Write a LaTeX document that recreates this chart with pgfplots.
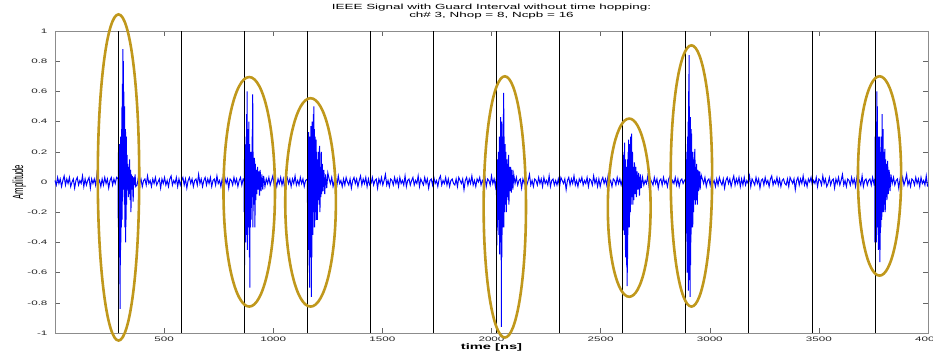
\documentclass[border=0pt]{standalone}
\usepackage{pgfplots}
\pgfplotsset{compat=1.18}
\usepackage{fontspec}
\setmainfont{Liberation Sans}
\newfontfamily\strfont[FakeStretch=1.8]{Liberation Sans}
\definecolor{gold}{RGB}{192,152,28}
\begin{document}
\begin{tikzpicture}
\begin{axis}[
  name=ax,
  scale only axis, width=873bp, height=302bp,
  xmin=0, xmax=4000, ymin=-1, ymax=1,
  clip=false,
  xtick={500,1000,1500,2000,2500,3000,3500,4000},
  xticklabels={500,1000,1500,2000,2500,3000,3500,4000},
  ytick={-1,-0.8,-0.6,-0.4,-0.2,0,0.2,0.4,0.6,0.8,1},
  yticklabels={-1,-0.8,-0.6,-0.4,-0.2,0,0.2,0.4,0.6,0.8,1},
  tick label style={font=\strfont\fontsize{6.5}{7}\selectfont, text=black!85},
  y tick label style={xshift=-4bp},
  tick align=inside, major tick length=5bp,
  axis line style={black!45},
  every tick/.style={black!60},
  title={IEEE Signal with Guard Interval without time hopping:\\ch\# 3, Nhop = 8, Ncpb = 16},
  title style={font=\strfont\fontsize{7.5}{8}\selectfont, align=center, at={(axis description cs:0.5,1)}, anchor=south, yshift=2bp},
  xlabel={time [ns]},
  xlabel style={font=\strfont\bfseries\fontsize{8.2}{9}\selectfont, at={(axis description cs:0.5,0)}, anchor=north, yshift=-7bp},
  ylabel={Amplitude},
  ylabel style={font=\fontsize{7.8}{9}\selectfont, at={(axis description cs:-0.041,0.5)}, anchor=center, yscale=1.9},
]
\addplot[blue, line width=1bp, mark=none] coordinates {
(0,0.01)(6,-0.02)(12,0.03)(18,-0.01)(24,0.02)(30,-0.03)(36,0.01)(42,0.04)(48,-0.02)(54,0.02)(60,-0.01)(66,0.03)(72,-0.03)(78,0.00)(84,0.02)(90,-0.04)(96,0.01)(102,0.03)(108,-0.02)(114,0.01)(120,-0.01)(126,0.04)(132,-0.03)(138,0.02)(144,-0.02)(150,0.01)(156,0.03)(162,-0.04)(168,0.02)(174,-0.01)(180,0.02)(186,-0.02)(192,0.05)(198,-0.01)(204,0.01)(210,-0.03)(216,0.02)(222,-0.02)(228,0.03)(234,-0.01)(240,0.02)(246,-0.04)(252,0.01)(258,0.03)(264,-0.02)(270,0.02)(276,-0.01)(282,0.03)
(289,0.02)(290,-0.3)(291,0.22)(292,-0.45)(293,0.2)(294,-0.5)(295,0.25)(296,-0.42)(297,0.1)(298,-0.84)(299,0.15)(300,-0.55)(301,0.3)(302,-0.4)(303,0.12)(304,-0.3)(305,0.35)(306,-0.2)(307,0.5)(308,-0.25)(309,0.65)(310,-0.1)(311,0.88)(312,0.05)(313,0.8)(314,-0.05)(315,0.6)(316,0.1)(317,0.4)(318,-0.15)(319,0.5)(320,-0.3)(321,0.3)(322,-0.1)(323,0.35)(324,-0.4)(325,0.2)(326,-0.25)(327,0.3)(328,-0.15)(330,0.18)(332,-0.05)(334,0.12)(336,-0.1)(338,0.1)(340,-0.08)(342,0.15)(344,-0.12)(346,0.08)(348,-0.2)(350,0.05)(352,-0.05)(355,0.04)(358,-0.13)(361,0.03)(364,-0.02)(367,0.05)(370,-0.03)
(376,-0.02)(382,0.03)(388,-0.01)(394,0.02)(400,-0.03)(406,0.01)(412,0.02)(418,-0.02)(424,0.04)(430,-0.01)(436,0.01)(442,-0.03)(448,0.02)(454,-0.01)(460,0.03)(466,-0.02)(472,0.00)(478,0.02)(484,-0.04)(490,0.02)(496,-0.01)(502,0.03)(508,-0.02)(514,0.01)(520,-0.03)(526,0.02)(532,0.04)(538,-0.02)(544,0.01)(550,-0.01)(556,0.03)(562,-0.03)(568,0.02)(574,-0.02)(580,0.01)(586,0.03)(592,-0.02)(598,0.02)(604,-0.04)(610,0.01)(616,0.03)(622,-0.01)(628,0.02)(634,-0.03)(640,0.01)(646,0.02)(652,-0.02)(658,0.05)(664,-0.01)(670,0.02)(676,-0.03)(682,0.01)(688,0.03)(694,-0.02)(700,0.02)(706,-0.01)(712,0.03)(718,-0.03)(724,0.01)(730,0.02)(736,-0.02)(742,0.04)(748,-0.01)(754,0.01)(760,-0.03)(766,0.02)(772,-0.02)(778,0.03)(784,-0.01)(790,0.02)(796,-0.04)(802,0.02)(808,0.01)(814,-0.02)(820,0.03)(826,-0.01)(832,0.02)(838,-0.03)(844,0.01)(850,0.03)(856,-0.02)(862,0.02)
(866,0.02)(867,-0.2)(868,0.15)(869,-0.55)(870,0.1)(871,-0.35)(872,0.2)(873,-0.4)(874,0.25)(875,-0.3)(876,0.3)(877,-0.2)(878,0.45)(879,-0.35)(880,0.6)(881,-0.45)(882,0.3)(883,-0.25)(884,0.2)(885,-0.3)(886,0.35)(887,-0.2)(888,0.4)(889,-0.35)(890,0.15)(891,-0.5)(892,0.25)(893,-0.7)(894,0.2)(895,-0.3)(896,0.12)(897,-0.15)(898,0.2)(899,-0.25)(900,0.15)(902,-0.1)(904,0.35)(905,-0.05)(906,0.58)(907,-0.3)(908,0.2)(909,-0.1)(910,0.1)(912,-0.15)(914,0.16)(916,-0.3)(918,0.12)(920,-0.12)(922,0.08)(925,-0.08)(928,0.1)(931,-0.05)(934,0.07)(937,-0.09)(940,0.08)(944,-0.06)(948,0.05)(952,-0.05)(956,0.04)
(962,-0.03)(968,0.02)(974,-0.01)(980,0.03)(986,-0.02)(992,0.01)(998,0.04)(1004,-0.02)(1010,0.01)(1016,-0.03)(1022,0.02)(1028,-0.01)(1034,0.03)(1040,-0.02)(1046,0.02)(1052,-0.04)(1058,0.01)(1064,0.03)(1070,-0.01)(1076,0.02)(1082,-0.03)(1088,0.02)(1094,-0.01)(1100,0.04)(1106,-0.02)(1112,0.01)(1118,-0.02)(1124,0.03)(1130,-0.01)(1136,0.02)(1142,-0.03)(1148,0.01)
(1156,0.02)(1157,-0.15)(1158,0.2)(1159,-0.4)(1160,0.3)(1161,-0.45)(1162,0.33)(1163,-0.35)(1164,0.25)(1165,-0.6)(1166,0.15)(1167,-0.7)(1168,0.3)(1169,-0.45)(1170,0.2)(1171,-0.5)(1172,0.37)(1173,-0.4)(1174,0.25)(1175,-0.76)(1176,0.3)(1177,-0.5)(1178,0.4)(1179,-0.3)(1180,0.2)(1182,-0.35)(1184,0.45)(1185,-0.2)(1186,0.5)(1187,-0.15)(1188,0.35)(1190,-0.3)(1192,0.3)(1194,-0.2)(1196,0.28)(1198,-0.25)(1200,0.2)(1202,-0.25)(1204,0.15)(1206,-0.12)(1208,0.2)(1210,-0.15)(1212,0.24)(1214,-0.2)(1216,0.1)(1218,-0.1)(1220,0.2)(1222,-0.08)(1225,0.12)(1228,-0.06)(1232,0.08)(1236,-0.08)(1240,0.05)(1245,-0.04)(1250,0.06)
(1256,0.02)(1262,-0.01)(1268,0.03)(1274,-0.03)(1280,0.01)(1286,0.02)(1292,-0.02)(1298,0.04)(1304,-0.01)(1310,0.01)(1316,-0.03)(1322,0.02)(1328,-0.02)(1334,0.03)(1340,0.00)(1346,-0.02)(1352,0.02)(1358,-0.04)(1364,0.01)(1370,0.03)(1376,-0.01)(1382,0.02)(1388,-0.03)(1394,0.01)(1400,0.04)(1406,-0.02)(1412,0.02)(1418,-0.01)(1424,0.03)(1430,-0.03)(1436,0.02)(1442,-0.02)
(1448,-0.01)(1454,0.03)(1460,-0.02)(1466,0.01)(1472,0.02)(1478,-0.04)(1484,0.02)(1490,-0.01)(1496,0.03)(1502,-0.02)(1508,0.01)(1514,0.05)(1520,-0.02)(1526,0.01)(1532,-0.03)(1538,0.02)(1544,0.01)(1550,-0.02)(1556,0.03)(1562,-0.01)(1568,0.02)(1574,-0.03)(1580,0.03)(1586,-0.01)(1592,0.01)(1598,-0.02)(1604,0.04)(1610,-0.03)(1616,0.01)(1622,0.02)(1628,-0.02)(1634,0.01)
(1640,0.03)(1646,-0.02)(1652,0.01)(1658,-0.01)(1664,0.04)(1670,-0.03)(1676,0.02)(1682,0.00)(1688,-0.02)(1694,0.03)(1700,-0.01)(1706,0.02)(1712,-0.04)(1718,0.01)(1724,0.02)(1730,-0.02)(1736,0.03)(1742,-0.01)(1748,0.01)(1754,-0.03)(1760,0.02)(1766,0.04)(1772,-0.02)(1778,0.01)(1784,-0.01)(1790,0.03)(1796,-0.02)(1802,0.02)(1808,-0.03)(1814,0.01)(1820,0.02)(1826,-0.01)
(1832,-0.02)(1838,0.02)(1844,-0.03)(1850,0.03)(1856,0.01)(1862,-0.01)(1868,0.02)(1874,-0.05)(1880,0.01)(1886,0.03)(1892,-0.02)(1898,0.02)(1904,-0.01)(1910,0.04)(1916,-0.02)(1922,0.01)(1928,-0.03)(1934,0.02)(1940,0.00)(1946,0.03)(1952,-0.02)(1958,0.01)(1964,-0.01)(1970,0.03)(1976,-0.03)(1982,0.02)(1988,0.01)(1994,-0.02)(2000,0.04)(2006,-0.01)(2012,0.02)(2018,-0.03)
(2022,0.02)(2023,-0.1)(2024,0.08)(2025,-0.42)(2026,0.1)(2027,-0.3)(2028,0.15)(2030,-0.25)(2032,0.2)(2034,-0.35)(2036,0.3)(2037,-0.48)(2038,0.25)(2039,-0.3)(2040,0.3)(2041,-0.4)(2042,0.43)(2043,-0.35)(2044,0.35)(2045,-0.96)(2046,0.4)(2047,-0.5)(2048,0.3)(2049,-0.35)(2050,0.2)(2052,-0.3)(2054,0.45)(2055,-0.2)(2056,0.59)(2057,-0.3)(2058,0.3)(2060,-0.2)(2062,0.25)(2064,-0.15)(2066,0.2)(2068,-0.2)(2070,0.15)(2072,-0.1)(2074,0.12)(2076,-0.12)(2078,0.18)(2080,-0.15)(2082,0.1)(2085,-0.06)(2088,0.1)(2091,-0.07)(2094,0.08)(2098,-0.05)(2102,0.05)
(2108,-0.01)(2114,0.03)(2120,-0.02)(2126,0.01)(2132,0.02)(2138,-0.04)(2144,0.02)(2150,-0.01)(2156,0.03)(2162,-0.02)(2168,0.01)(2174,0.05)(2180,-0.02)(2186,0.01)(2192,-0.03)(2198,0.02)(2204,0.01)(2210,-0.02)(2216,0.03)(2222,-0.01)(2228,0.02)(2234,-0.03)(2240,0.03)(2246,-0.01)(2252,0.01)(2258,-0.02)(2264,0.04)(2270,-0.03)(2276,0.01)(2282,0.02)(2288,-0.02)(2294,0.01)
(2300,-0.02)(2306,0.02)(2312,-0.03)(2318,0.03)(2324,0.01)(2330,-0.01)(2336,0.02)(2342,-0.05)(2348,0.01)(2354,0.03)(2360,-0.02)(2366,0.02)(2372,-0.01)(2378,0.04)(2384,-0.02)(2390,0.01)(2396,-0.03)(2402,0.02)(2408,0.00)(2414,0.03)(2420,-0.02)(2426,0.01)(2432,-0.01)(2438,0.03)(2444,-0.03)(2450,0.02)(2456,0.01)(2462,-0.02)(2468,0.04)(2474,-0.01)(2480,0.02)(2486,-0.03)
(2492,0.02)(2498,-0.03)(2504,0.01)(2510,0.03)(2516,-0.01)(2522,0.02)(2528,-0.02)(2534,0.04)(2540,-0.01)(2546,0.01)(2552,-0.03)(2558,0.02)(2564,0.01)(2570,-0.02)(2576,0.03)(2582,-0.01)(2588,0.02)(2594,-0.02)
(2600,0.02)(2601,-0.1)(2602,0.2)(2603,-0.3)(2604,0.18)(2605,-0.32)(2606,0.1)(2607,-0.2)(2608,0.15)(2609,-0.35)(2610,0.26)(2611,-0.3)(2612,0.1)(2613,-0.45)(2614,0.15)(2615,-0.5)(2616,0.05)(2617,-0.4)(2618,0.1)(2619,-0.55)(2620,0.05)(2621,-0.69)(2622,0.1)(2623,-0.6)(2624,0.15)(2625,-0.35)(2626,0.2)(2627,-0.3)(2628,0.28)(2629,-0.25)(2630,0.2)(2632,-0.3)(2634,0.25)(2636,-0.2)(2638,0.3)(2640,-0.15)(2642,0.32)(2644,-0.1)(2646,0.2)(2648,-0.15)(2650,0.1)(2652,-0.12)(2655,0.13)(2658,-0.08)(2661,0.1)(2664,-0.1)(2667,0.07)(2670,-0.05)(2674,0.06)(2678,-0.09)(2682,0.05)(2686,-0.04)
(2692,0.03)(2698,-0.02)(2704,0.01)(2710,-0.01)(2716,0.04)(2722,-0.03)(2728,0.02)(2734,0.00)(2740,-0.02)(2746,0.03)(2752,-0.01)(2758,0.02)(2764,-0.04)(2770,0.01)(2776,0.02)(2782,-0.02)(2788,0.03)(2794,-0.01)(2800,0.01)(2806,-0.03)(2812,0.02)(2818,0.04)(2824,-0.02)(2830,0.01)(2836,-0.01)(2842,0.03)(2848,-0.02)(2854,0.02)(2860,-0.03)(2866,0.01)(2872,0.02)(2878,-0.01)(2884,0.01)
(2889,0.02)(2890,-0.15)(2891,0.1)(2892,-0.34)(2893,0.15)(2894,-0.3)(2895,0.2)(2896,-0.6)(2897,0.25)(2898,-0.45)(2899,0.3)(2900,-0.55)(2901,0.4)(2902,-0.72)(2903,0.6)(2904,-0.5)(2905,0.84)(2906,-0.4)(2907,0.5)(2908,-0.65)(2909,0.35)(2910,-0.76)(2911,0.43)(2912,-0.55)(2913,0.3)(2914,-0.4)(2915,0.35)(2916,-0.3)(2917,0.32)(2918,-0.25)(2920,0.2)(2922,-0.3)(2924,0.15)(2926,-0.2)(2928,0.2)(2930,-0.12)(2932,0.22)(2934,-0.15)(2936,0.1)(2938,-0.12)(2940,0.12)(2943,-0.15)(2946,0.08)(2949,-0.06)(2952,0.07)(2956,-0.05)(2960,0.05)
(2966,0.02)(2972,-0.01)(2978,0.03)(2984,-0.03)(2990,0.01)(2996,0.02)(3002,-0.02)(3008,0.04)(3014,-0.01)(3020,0.01)(3026,-0.03)(3032,0.02)(3038,-0.02)(3044,0.03)(3050,0.00)(3056,-0.02)(3062,0.02)(3068,-0.04)(3074,0.01)(3080,0.03)(3086,-0.01)(3092,0.02)(3098,-0.03)(3104,0.01)(3110,0.04)(3116,-0.02)(3122,0.02)(3128,-0.01)(3134,0.03)(3140,-0.03)(3146,0.02)(3152,-0.02)
(3158,0.03)(3164,-0.02)(3170,0.01)(3176,-0.01)(3182,0.04)(3188,-0.03)(3194,0.02)(3200,0.00)(3206,-0.02)(3212,0.03)(3218,-0.01)(3224,0.02)(3230,-0.04)(3236,0.01)(3242,0.02)(3248,-0.02)(3254,0.03)(3260,-0.01)(3266,0.01)(3272,-0.03)(3278,0.02)(3284,0.04)(3290,-0.02)(3296,0.01)(3302,-0.01)(3308,0.03)(3314,-0.02)(3320,0.02)(3326,-0.03)(3332,0.01)(3338,0.02)(3344,-0.01)
(3350,-0.02)(3356,0.02)(3362,-0.03)(3368,0.03)(3374,0.01)(3380,-0.01)(3386,0.02)(3392,-0.05)(3398,0.01)(3404,0.03)(3410,-0.02)(3416,0.02)(3422,-0.01)(3428,0.04)(3434,-0.02)(3440,0.01)(3446,-0.03)(3452,0.02)(3458,0.00)(3464,0.03)(3470,-0.02)(3476,0.01)(3482,-0.01)(3488,0.03)(3494,-0.03)(3500,0.02)(3506,0.01)(3512,-0.02)(3518,0.04)(3524,-0.01)(3530,0.02)(3536,-0.03)
(3542,-0.01)(3548,0.03)(3554,-0.02)(3560,0.01)(3566,0.02)(3572,-0.04)(3578,0.02)(3584,-0.01)(3590,0.03)(3596,-0.02)(3602,0.01)(3608,0.05)(3614,-0.02)(3620,0.01)(3626,-0.03)(3632,0.02)(3638,0.01)(3644,-0.02)(3650,0.03)(3656,-0.01)(3662,0.02)(3668,-0.03)(3674,0.03)(3680,-0.01)(3686,0.01)(3692,-0.02)(3698,0.04)(3704,-0.03)(3710,0.01)(3716,0.02)(3722,-0.02)(3728,0.01)(3734,0.02)(3740,-0.02)(3746,0.03)(3752,-0.01)
(3756,0.02)(3757,-0.4)(3758,0.3)(3759,-0.35)(3760,0.4)(3761,-0.3)(3762,0.35)(3763,-0.4)(3764,0.3)(3765,-0.25)(3766,0.6)(3767,-0.2)(3768,0.5)(3769,-0.3)(3770,0.25)(3771,-0.35)(3772,0.2)(3773,-0.45)(3774,0.3)(3775,-0.35)(3776,0.25)(3777,-0.4)(3778,0.3)(3779,-0.53)(3780,0.2)(3781,-0.45)(3782,0.15)(3784,-0.3)(3786,0.3)(3788,-0.25)(3790,0.45)(3792,-0.2)(3794,0.35)(3796,-0.2)(3798,0.2)(3800,-0.15)(3802,0.22)(3804,-0.2)(3806,0.15)(3808,-0.1)(3810,0.12)(3812,-0.12)(3815,0.14)(3818,-0.08)(3822,0.08)(3826,-0.06)(3830,0.05)
(3836,-0.01)(3842,0.03)(3848,-0.02)(3854,0.01)(3860,0.02)(3866,-0.04)(3872,0.02)(3878,-0.01)(3884,0.03)(3890,-0.02)(3896,0.01)(3902,0.05)(3908,-0.02)(3914,0.01)(3920,-0.03)(3926,0.02)(3932,0.01)(3938,-0.02)(3944,0.03)(3950,-0.01)(3956,0.02)(3962,-0.03)(3968,0.03)(3974,-0.01)(3980,0.01)(3986,-0.02)(3992,0.04)(3998,-0.03)
};
\pgfplotsinvokeforeach{289,578,867,1156,1445,1734,2023,2312,2601,2890,3179,3468,3757}{
  \addplot[black, line width=0.7bp, mark=none, forget plot] coordinates {(#1,-1) (#1,1)};
}
\draw[gold, line width=2.6bp] (axis cs:291,0.03) ellipse [x radius=95, y radius=1.08];
\draw[gold, line width=2.6bp] (axis cs:890,-0.065) ellipse [x radius=118, y radius=0.76];
\draw[gold, line width=2.6bp] (axis cs:1171,-0.135) ellipse [x radius=116, y radius=0.69];
\draw[gold, line width=2.6bp] (axis cs:2061,-0.165) ellipse [x radius=97, y radius=0.865];
\draw[gold, line width=2.6bp] (axis cs:2631,-0.17) ellipse [x radius=98, y radius=0.59];
\draw[gold, line width=2.6bp] (axis cs:2916,0.04) ellipse [x radius=95, y radius=0.865];
\draw[gold, line width=2.6bp] (axis cs:3778,0.04) ellipse [x radius=99, y radius=0.66];
\end{axis}
\pgfresetboundingbox
\path[use as bounding box] ([xshift=-55bp,yshift=-19bp]ax.south west) rectangle ([xshift=5bp,yshift=31bp]ax.north east);
\end{tikzpicture}
\end{document}
